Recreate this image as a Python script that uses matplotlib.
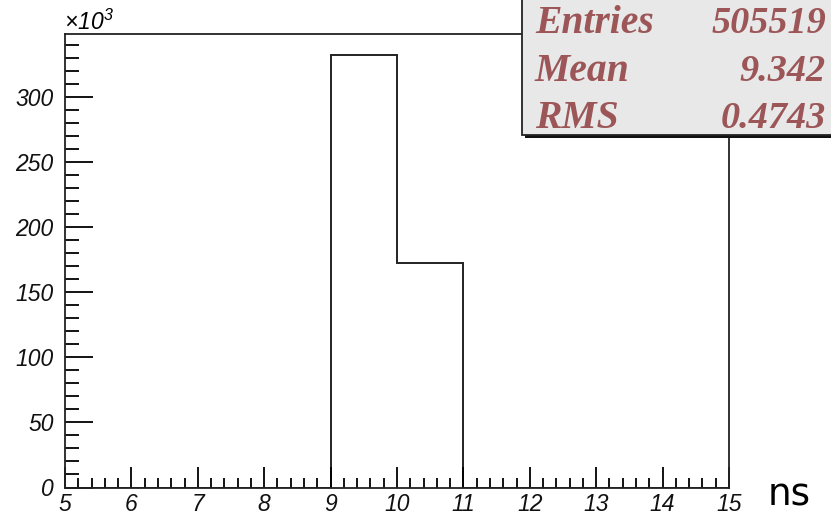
import numpy as np
import matplotlib
matplotlib.use('Agg')
from matplotlib import pyplot as plt
from matplotlib.patches import Rectangle
from matplotlib.ticker import MultipleLocator, FuncFormatter

# histogram contents (bins of 1 ns from 5 to 15)
bin_edges = [5, 6, 7, 8, 9, 10, 11, 12, 13, 14, 15]
bin_counts = [0, 0, 0, 0, 332631, 172888, 0, 0, 0, 0]

# statistics box
stat_names = ['Entries', 'Mean', 'RMS']
stat_values = ['505519', '9.342', '0.4743']

plt.rcParams['mathtext.fontset'] = 'custom'
plt.rcParams['mathtext.rm'] = 'Liberation Sans:italic'

fig = plt.figure(figsize=(8.31, 5.16), dpi=100)
ax = fig.add_axes([65/831, 1-487.5/516, 664/831, 453.5/516])

ax.stairs(bin_counts, bin_edges, color='#222222', linewidth=1.4)
ax.set_xlim(5, 15)
ax.set_ylim(0, 348700)

# ROOT-like ticks: inside, only on left and bottom
ax.xaxis.set_major_locator(MultipleLocator(1))
ax.xaxis.set_minor_locator(MultipleLocator(0.2))
ax.yaxis.set_major_locator(MultipleLocator(50000))
ax.yaxis.set_minor_locator(MultipleLocator(10000))
ax.yaxis.set_major_formatter(FuncFormatter(lambda v, p: '%d' % round(v/1000)))
ax.tick_params(axis='x', which='major', direction='in', length=15, width=1.3, pad=4)
ax.tick_params(axis='x', which='minor', direction='in', length=7, width=1.3)
ax.tick_params(axis='y', which='major', direction='in', length=20, width=1.3, pad=8)
ax.tick_params(axis='y', which='minor', direction='in', length=10, width=1.3)
for lab in ax.get_xticklabels() + ax.get_yticklabels():
    lab.set_fontfamily('Liberation Sans')
    lab.set_fontstyle('italic')
    lab.set_fontsize(16.5)
    lab.set_color('#111111')
for s in ax.spines.values():
    s.set_linewidth(1.3)
    s.set_color('#222222')

fig.text(64/831, 1-30/516, r'$\times10^{3}$', fontsize=16.5, ha='left', va='baseline')
fig.text(768/831, 1-496/516, 'ns', fontsize=27, family='DejaVu Sans', ha='left', va='center')

# stats box with shadow
bx0, by0, bx1, by1 = 521.5/831, 1-135/516, 835/831, 1.01
fig.patches.append(Rectangle((bx0+3/831, by0-3/516), bx1-bx0, by1-by0, transform=fig.transFigure,
                             facecolor='#111111', edgecolor='none', zorder=5))
fig.patches.append(Rectangle((bx0, by0), bx1-bx0, by1-by0, transform=fig.transFigure,
                             facecolor='#e8e8e8', edgecolor='#222222', linewidth=1.3, zorder=6))
baselines = [33, 81, 128]
for name, val, yb in zip(stat_names, stat_values, baselines):
    fig.text(535/831, 1-yb/516, name, fontsize=28.5, family='Liberation Serif', weight='bold',
             style='italic', color='#9c5658', ha='left', va='baseline', zorder=7)
    fig.text(826/831, 1-yb/516, val, fontsize=27.5, family='Liberation Serif', weight='bold',
             style='italic', color='#9c5658', ha='right', va='baseline', zorder=7)

fig.savefig('out.png', dpi=100)
